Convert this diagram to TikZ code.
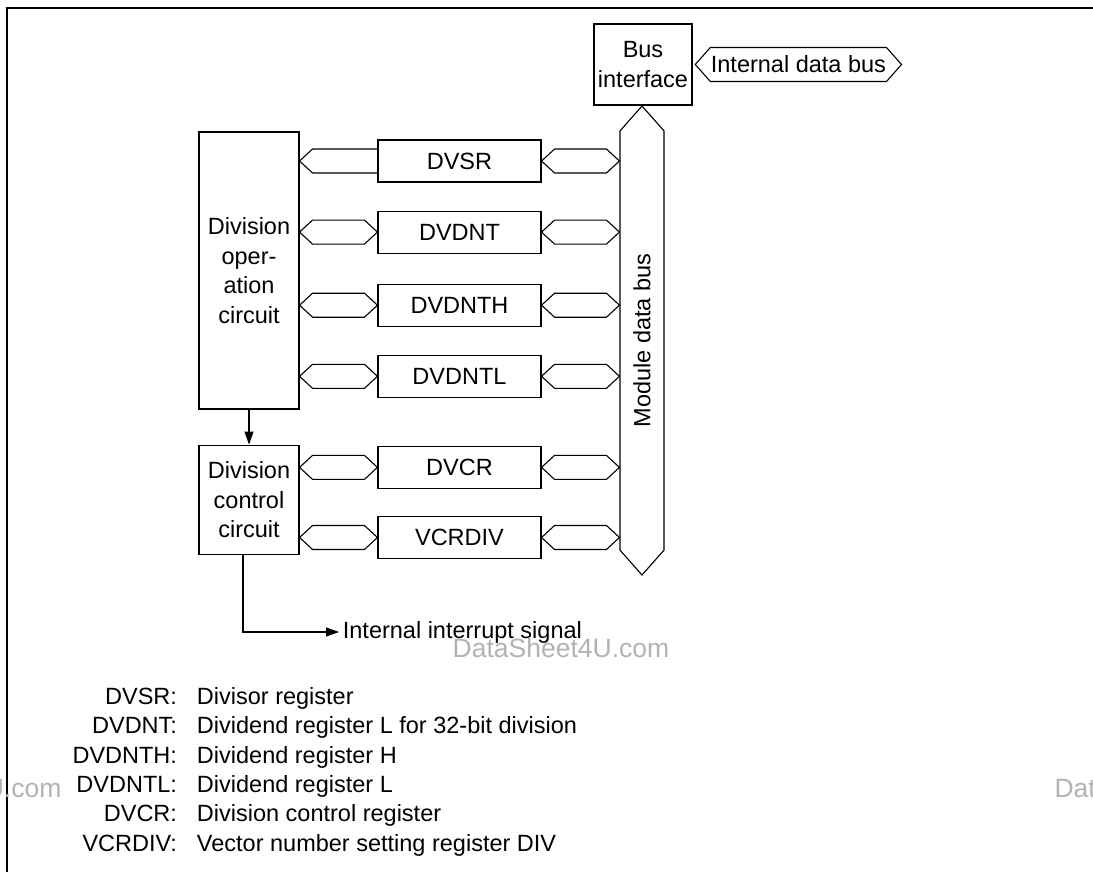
\documentclass[tikz,border=0pt]{standalone}
\usepackage{fontspec}
\setmainfont{Liberation Sans}
\usepackage{tikz}
\usepackage{xcolor}
\usetikzlibrary{arrows.meta, positioning, calc, shapes.arrows}
\definecolor{wmgray}{RGB}{178,178,178}

\begin{document}
\begin{tikzpicture}[
  x=1pt, y=1pt,
  font=\fontsize{23.5}{29.4}\selectfont,
  line width=1.1pt,
  box/.style={rectangle, draw, align=center, inner sep=0pt},
  reg/.style={box, minimum width=163pt, minimum height=42pt},
  bus/.style={double arrow, draw, double arrow head extend=0pt, inner sep=0pt},
  hexlink/.style={to path={let \p1=(\tikztostart), \p2=(\tikztotarget) in
    -- (\x1+13,\y1+12) -- (\x2-13,\y1+12) -- (\x2,\y1) -- (\x2-13,\y1-12) -- (\x1+13,\y1-12) -- cycle}},
  halflink/.style={to path={let \p1=(\tikztostart), \p2=(\tikztotarget) in
    (\x2,\y1+12) -- (\x1+13,\y1+12) -- (\x1,\y1) -- (\x1+13,\y1-12) -- (\x2,\y1-12)}},
  arr/.style={-{Triangle[length=13pt, width=9pt]}},
  wmark/.style={text=wmgray, font=\fontsize{26.5}{30}\selectfont, inner sep=0pt}
]
\useasboundingbox (0,0) rectangle (1093,-872);
\draw[line width=1.5pt] (7,-872) -- (7,-8) -- (1093,-8);

% bus side
\node[box, minimum width=98pt, minimum height=81pt] (bif) at (643,-64.5) {Bus\\interface};
\node[bus, double arrow tip angle=97, minimum height=201pt, minimum width=34pt,
  right=2pt of bif] (idb) {Internal data bus};
\node[bus, double arrow tip angle=83, minimum height=469pt, minimum width=44pt,
  rotate=90] (mdb) at (642,-340.5) {Module data bus\hspace{20pt}};

% registers
\node[reg] (dvsr) at (459.5,-161) {DVSR};
\node[reg, below=28pt of dvsr] (dvdnt) {DVDNT};
\node[reg, below=30pt of dvdnt] (dvdnth) {DVDNTH};
\node[reg, below=28pt of dvdnth] (dvdntl) {DVDNTL};
\node[reg, below=48pt of dvdntl] (dvcr) {DVCR};
\node[reg, below=27pt of dvcr] (vcrdiv) {VCRDIV};

% circuits
\node[box, minimum width=100pt, minimum height=277pt] (opc) at (249,-270.5) {Division\\oper-\\ation\\circuit};
\node[box, minimum width=100pt, minimum height=109pt, below=35pt of opc] (dcc) {Division\\control\\circuit};
\node[anchor=west] (irq) at (339,-632) {Internal interrupt signal};

\draw[halflink] (opc.east |- dvsr) to (dvsr.west);
\draw[hexlink] (opc.east |- dvdnt) to (dvdnt.west);
\draw[hexlink] (opc.east |- dvdnth) to (dvdnth.west);
\draw[hexlink] (opc.east |- dvdntl) to (dvdntl.west);
\draw[hexlink] (dcc.east |- dvcr) to (dvcr.west);
\draw[hexlink] (dcc.east |- vcrdiv) to (vcrdiv.west);
\draw[hexlink] (dvsr.east) to (dvsr -| mdb.north);
\draw[hexlink] (dvdnt.east) to (dvdnt -| mdb.north);
\draw[hexlink] (dvdnth.east) to (dvdnth -| mdb.north);
\draw[hexlink] (dvdntl.east) to (dvdntl -| mdb.north);
\draw[hexlink] (dvcr.east) to (dvcr -| mdb.north);
\draw[hexlink] (vcrdiv.east) to (vcrdiv -| mdb.north);
\draw[arr] (opc) -- (dcc);
\draw[arr] ([xshift=-6pt]dcc.south) |- (irq.west);

% key
\node[anchor=west, inner sep=0pt] (legend) at (72,-772) {%
  \begin{tabular}{@{}r@{\hspace{20pt}}l@{}}
  DVSR: & Divisor register\\
  DVDNT: & Dividend register L for 32-bit division\\
  DVDNTH: & Dividend register H\\
  DVDNTL: & Dividend register L\\
  DVCR: & Division control register\\
  VCRDIV: & Vector number setting register DIV
  \end{tabular}};

\node[wmark] (wm1) at (561,-648) {DataSheet4U.com};
\node[wmark, anchor=east] (wm2) at (62,-788) {DataSheet4U.com};
\node[wmark, anchor=west] (wm3) at (1054,-788) {DataSheet4U.com};
\end{tikzpicture}
\end{document}
